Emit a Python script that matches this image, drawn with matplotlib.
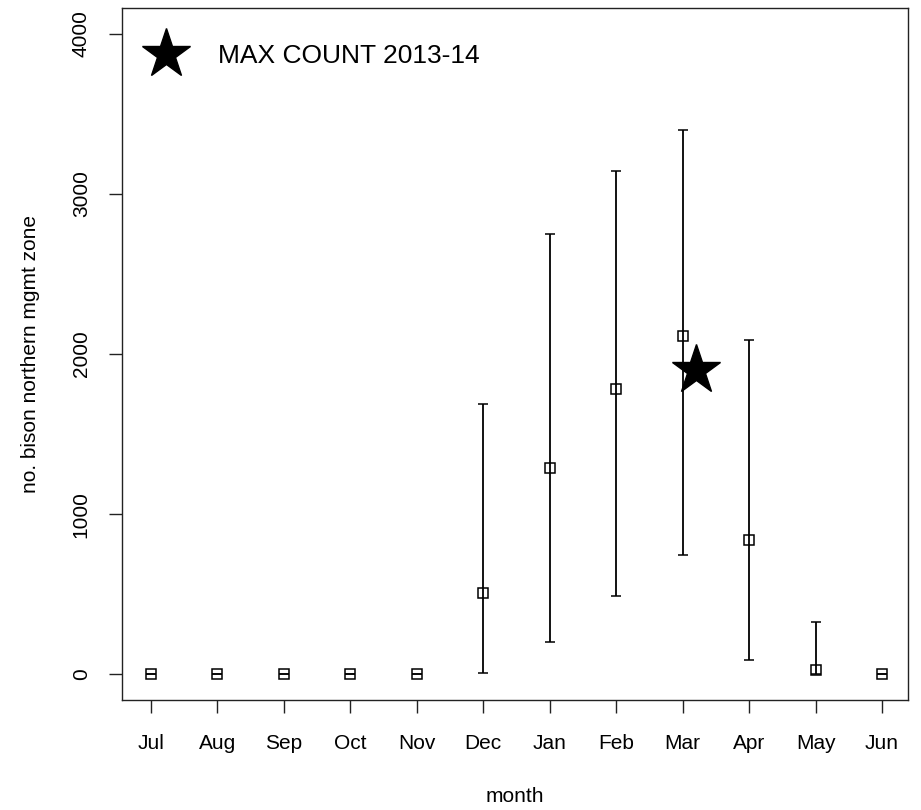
import matplotlib.pyplot as plt
from matplotlib.lines import Line2D

plt.rcParams['font.family'] = ['Liberation Sans', 'DejaVu Sans']

# --- DATA ---
months = ["Jul", "Aug", "Sep", "Oct", "Nov", "Dec",
          "Jan", "Feb", "Mar", "Apr", "May", "Jun"]
mean_count = [0, 0, 0, 0, 0, 505, 1290, 1780, 2110, 840, 25, 0]
low_count = [0, 0, 0, 0, 0, 8, 200, 488, 745, 88, 0, 0]
high_count = [0, 0, 0, 0, 0, 1688, 2752, 3142, 3396, 2088, 324, 0]
yticks = [0, 1000, 2000, 3000, 4000]

# max count for the 2013-14 winter (drawn just right of Mar)
max_month = 9.2
max_count = 1900

x = list(range(1, len(months) + 1))
err_lo = [m - lo for m, lo in zip(mean_count, low_count)]
err_hi = [hi - m for m, hi in zip(mean_count, high_count)]

W, H = 921, 810
fig = plt.figure(figsize=(W / 100, H / 100), dpi=100)
ax = fig.add_axes([122 / W, (H - 700) / H, (908 - 122) / W, (700 - 8) / H])

ax.errorbar(x, mean_count, yerr=[err_lo, err_hi], fmt='s', mfc='none',
            mec='black', mew=1.1, ms=6.5, ecolor='black', elinewidth=1.3,
            capsize=3.3, capthick=1.3, color='black', zorder=3)
ax.plot([max_month], [max_count], marker='*', ms=37, color='black',
        linestyle='none', zorder=4)

ax.set_xlim(0.564, 12.39)
ax.set_ylim(-160, 4160)
ax.set_xticks(x)
ax.set_xticklabels(months)
ax.set_yticks(yticks)
ax.set_yticklabels([str(v) for v in yticks], rotation=90, va='center')

ax.tick_params(direction='out', length=9.5, width=1.0, labelsize=15,
               pad=13, color='#222222')
ax.tick_params(axis='x', pad=15)
for sp in ax.spines.values():
    sp.set_linewidth(1.0)
    sp.set_color('#222222')

fig.text(515 / W, 1 - 797 / H, "month", ha='center', va='center', fontsize=15)
fig.text(31 / W, 1 - 354 / H, "no. bison northern mgmt zone", ha='center',
         va='center', rotation=90, fontsize=15)

star = Line2D([], [], marker='*', ms=37, color='black', linestyle='none')
ax.legend([star], ["MAX COUNT 2013-14"], loc='center left',
          bbox_to_anchor=(0.0224, 0.931), frameon=False, fontsize=19,
          borderpad=0, borderaxespad=0, handlelength=2.0, handletextpad=0.97)

fig.savefig("out.png", dpi=100)
